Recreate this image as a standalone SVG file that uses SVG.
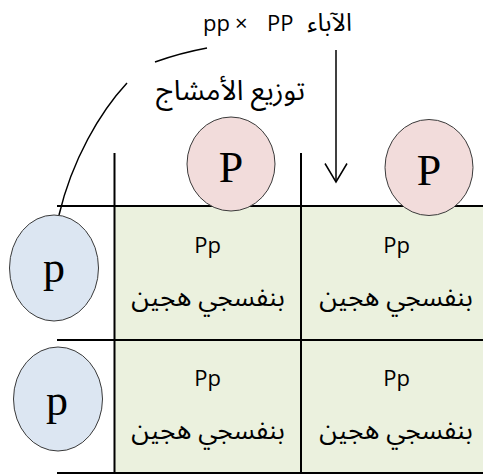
<svg xmlns="http://www.w3.org/2000/svg" width="483" height="474" viewBox="0 0 483 474">
<style>
.grid{stroke:#000;stroke-width:2;fill:none}
.conn{stroke:#000;stroke-width:1.5;fill:none}
.pc{fill:#f2dcdb;stroke:#3a3a3a;stroke-width:1}
.bc{fill:#dce6f2;stroke:#3a3a3a;stroke-width:1}
.big{font-family:'Liberation Serif',serif;font-size:44px;fill:#000;text-anchor:middle}
.geno{font-family:'Open Sans',sans-serif;font-size:22px;fill:#000;text-anchor:middle}
.ar{font-family:'Noto Sans Arabic','DejaVu Sans',sans-serif;font-size:26px;fill:#000;text-anchor:middle}
.lbl{font-family:'Open Sans','Noto Sans Arabic','DejaVu Sans',sans-serif;font-size:22px;fill:#000}
</style>
<g id="grid">
<rect x="115" y="206" width="368" height="267" fill="#ebf1de"/>
<path class="grid" d="M57 206H483M57 340H483M57 473H483M114.5 153V474M301 153V474"/>
</g>
<g id="connectors">
<path class="conn" d="M207 48 Q180 53 155 62"/>
<path class="conn" d="M127 83 C100 112 72 160 59 215"/>
<path class="conn" d="M336 50 V182"/>
<path class="conn" d="M325 163.5 L336 182 L347 163.5"/>
</g>
<g id="label-gametes">
<text class="lbl" x="230.5" y="100" style="font-size:28px;text-anchor:middle">توزيع الأمشاج</text>
</g>
<g id="label-parents">
<text class="lbl" y="31"><tspan x="203">pp</tspan><tspan x="235">×</tspan><tspan x="267">PP</tspan><tspan x="352" style="text-anchor:end;font-size:25px">الآباء</tspan></text>
</g>
<g id="P1"><ellipse class="pc" cx="231" cy="164" rx="44" ry="47"/><text class="big" x="231" y="182">P</text></g>
<g id="P2"><ellipse class="pc" cx="429" cy="167.5" rx="44" ry="48"/><text class="big" x="429" y="185">P</text></g>
<g id="p1"><ellipse class="bc" cx="54" cy="268" rx="44.5" ry="53"/><text class="big" x="54" y="282">p</text></g>
<g id="p2"><ellipse class="bc" cx="58" cy="399" rx="44.5" ry="52"/><text class="big" x="57" y="415">p</text></g>
<g id="cell11"><text class="geno" x="207.5" y="253">Pp</text><text class="ar" x="208" y="306">بنفسجي هجين</text></g>
<g id="cell12"><text class="geno" x="396.5" y="253">Pp</text><text class="ar" x="396" y="306">بنفسجي هجين</text></g>
<g id="cell21"><text class="geno" x="207.5" y="386">Pp</text><text class="ar" x="208" y="439">بنفسجي هجين</text></g>
<g id="cell22"><text class="geno" x="396.5" y="386">Pp</text><text class="ar" x="396" y="439">بنفسجي هجين</text></g>
</svg>
